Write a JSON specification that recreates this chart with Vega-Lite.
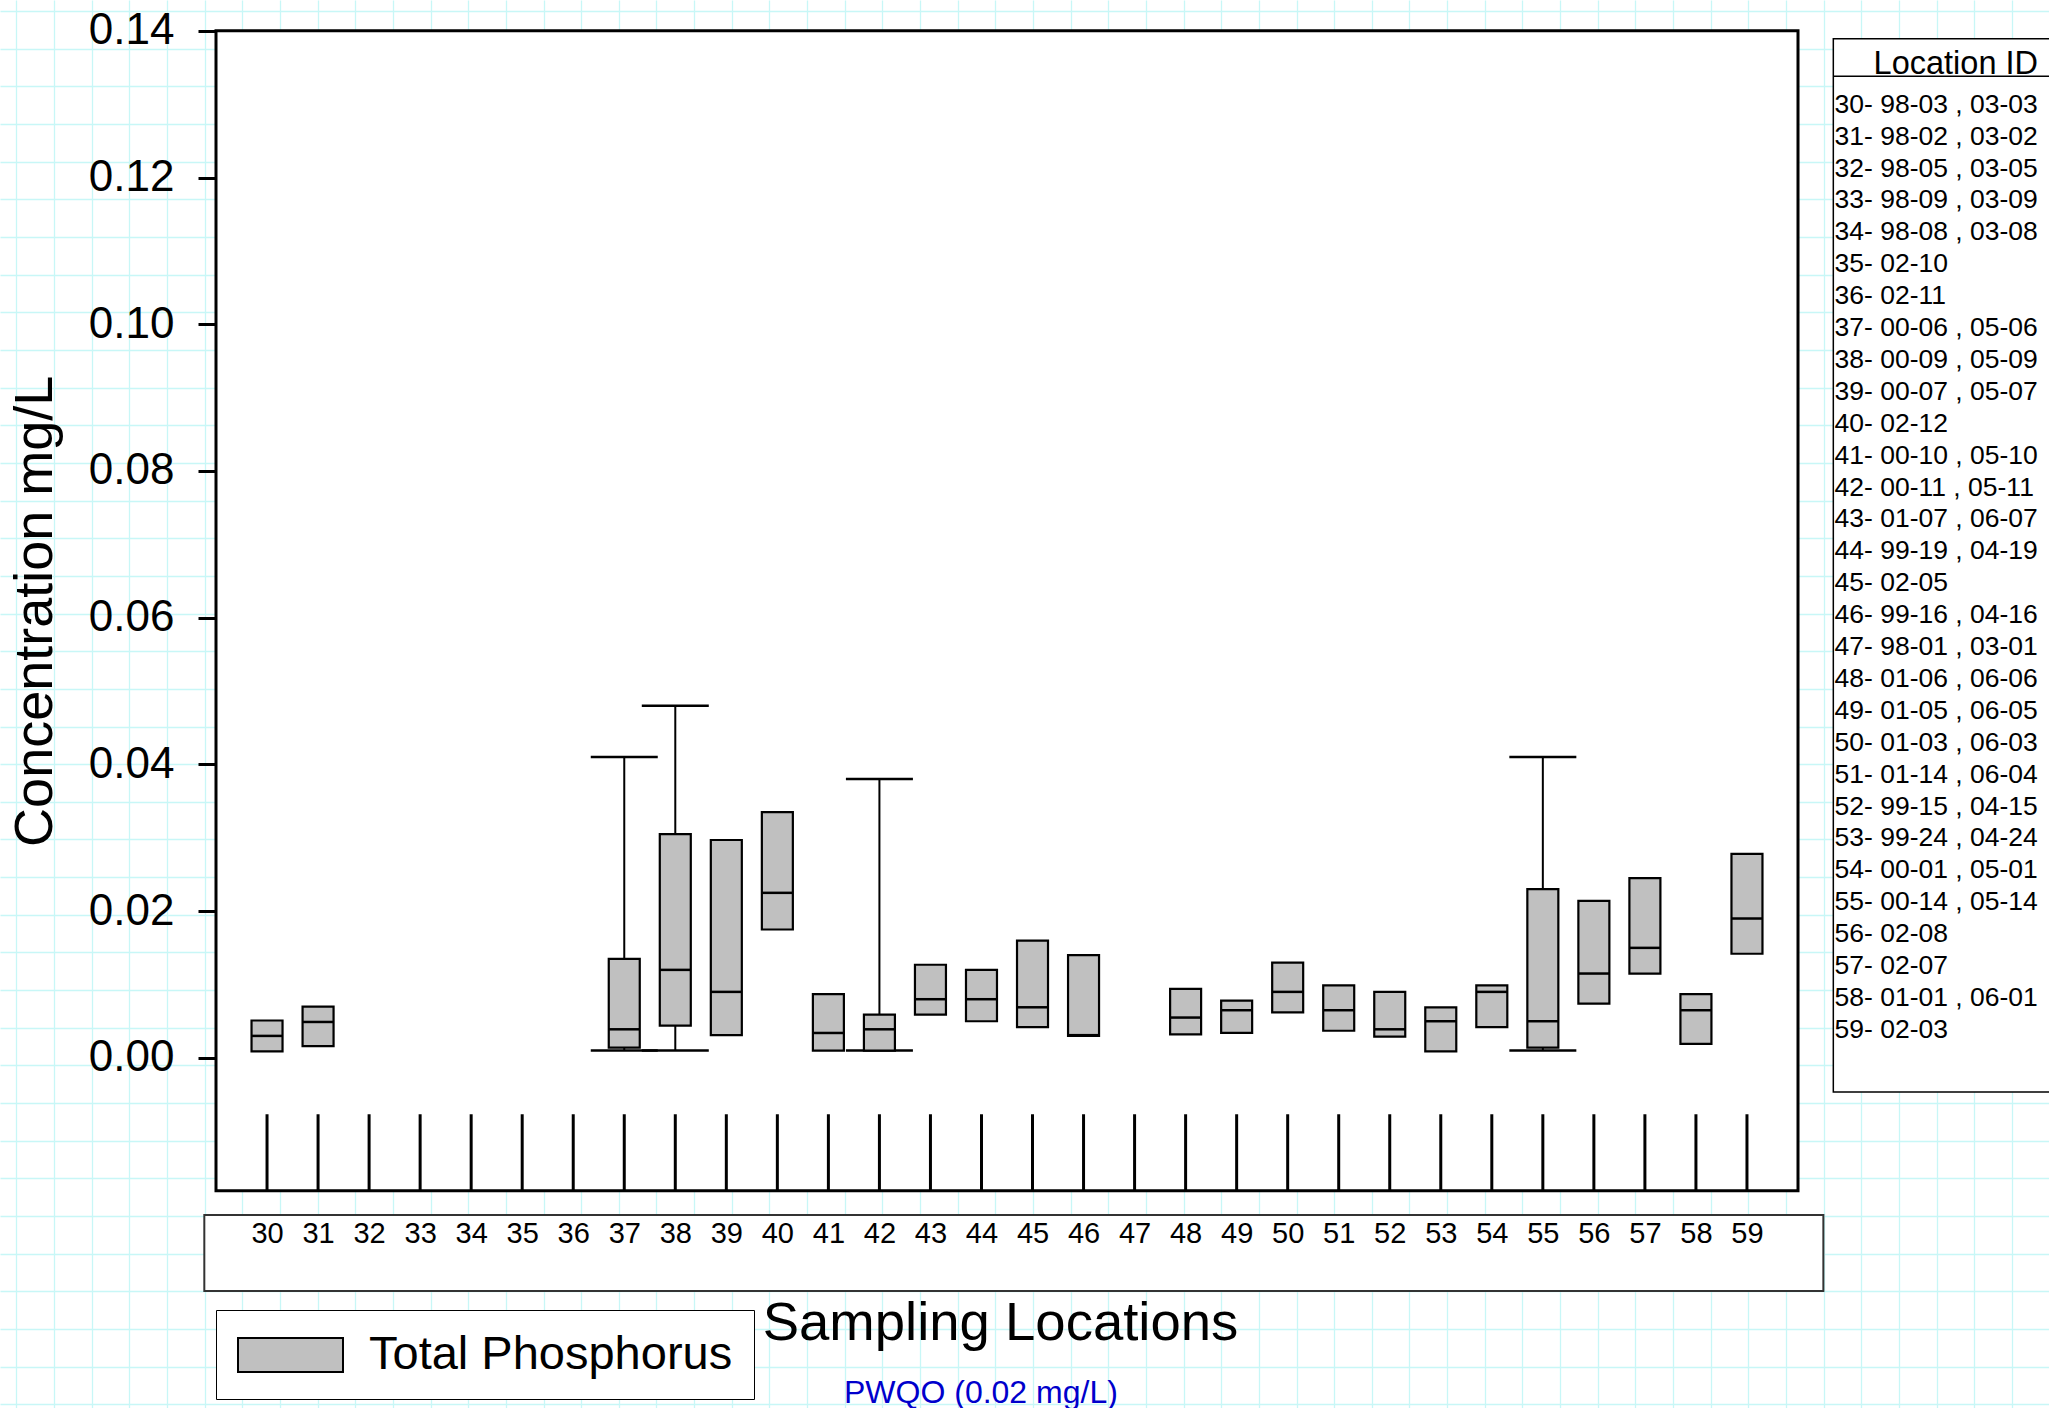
{
  "$schema": "https://vega.github.io/schema/vega-lite/v6.json",
  "width": 2049,
  "height": 1408,
  "autosize": {"type": "none"},
  "padding": 0,
  "background": "white",
  "config": {
    "view": {"stroke": null},
    "font": "Liberation Sans",
    "axis": {"labelFont": "Liberation Sans", "titleFont": "Liberation Sans", "labelColor": "black", "titleColor": "black", "titleFontWeight": "normal"},
    "legend": {"labelFont": "Liberation Sans", "titleFont": "Liberation Sans", "titleFontWeight": "normal", "labelColor": "black", "titleColor": "black"}
  },
  "data": {
    "values": [
      {"loc": 30, "label": "30- 98-03 , 03-03", "min": null, "q1": 0.0009, "median": 0.0030, "q3": 0.0051, "max": null},
      {"loc": 31, "label": "31- 98-02 , 03-02", "min": null, "q1": 0.0016, "median": 0.0049, "q3": 0.0070, "max": null},
      {"loc": 32, "label": "32- 98-05 , 03-05", "min": null, "q1": null, "median": null, "q3": null, "max": null},
      {"loc": 33, "label": "33- 98-09 , 03-09", "min": null, "q1": null, "median": null, "q3": null, "max": null},
      {"loc": 34, "label": "34- 98-08 , 03-08", "min": null, "q1": null, "median": null, "q3": null, "max": null},
      {"loc": 35, "label": "35- 02-10", "min": null, "q1": null, "median": null, "q3": null, "max": null},
      {"loc": 36, "label": "36- 02-11", "min": null, "q1": null, "median": null, "q3": null, "max": null},
      {"loc": 37, "label": "37- 00-06 , 05-06", "min": 0.0010, "q1": 0.0014, "median": 0.0039, "q3": 0.0135, "max": 0.0410},
      {"loc": 38, "label": "38- 00-09 , 05-09", "min": 0.0010, "q1": 0.0044, "median": 0.0120, "q3": 0.0305, "max": 0.0480},
      {"loc": 39, "label": "39- 00-07 , 05-07", "min": null, "q1": 0.0031, "median": 0.0090, "q3": 0.0297, "max": null},
      {"loc": 40, "label": "40- 02-12", "min": null, "q1": 0.0175, "median": 0.0225, "q3": 0.0335, "max": null},
      {"loc": 41, "label": "41- 00-10 , 05-10", "min": null, "q1": 0.0010, "median": 0.0034, "q3": 0.0087, "max": null},
      {"loc": 42, "label": "42- 00-11 , 05-11", "min": 0.0010, "q1": 0.0010, "median": 0.0039, "q3": 0.0059, "max": 0.0380},
      {"loc": 43, "label": "43- 01-07 , 06-07", "min": null, "q1": 0.0059, "median": 0.0080, "q3": 0.0127, "max": null},
      {"loc": 44, "label": "44- 99-19 , 04-19", "min": null, "q1": 0.0050, "median": 0.0080, "q3": 0.0120, "max": null},
      {"loc": 45, "label": "45- 02-05", "min": null, "q1": 0.0042, "median": 0.0069, "q3": 0.0160, "max": null},
      {"loc": 46, "label": "46- 99-16 , 04-16", "min": null, "q1": 0.0030, "median": 0.0031, "q3": 0.0140, "max": null},
      {"loc": 47, "label": "47- 98-01 , 03-01", "min": null, "q1": null, "median": null, "q3": null, "max": null},
      {"loc": 48, "label": "48- 01-06 , 06-06", "min": null, "q1": 0.0032, "median": 0.0055, "q3": 0.0094, "max": null},
      {"loc": 49, "label": "49- 01-05 , 06-05", "min": null, "q1": 0.0034, "median": 0.0065, "q3": 0.0078, "max": null},
      {"loc": 50, "label": "50- 01-03 , 06-03", "min": null, "q1": 0.0062, "median": 0.0090, "q3": 0.0130, "max": null},
      {"loc": 51, "label": "51- 01-14 , 06-04", "min": null, "q1": 0.0037, "median": 0.0065, "q3": 0.0099, "max": null},
      {"loc": 52, "label": "52- 99-15 , 04-15", "min": null, "q1": 0.0029, "median": 0.0039, "q3": 0.0090, "max": null},
      {"loc": 53, "label": "53- 99-24 , 04-24", "min": null, "q1": 0.0009, "median": 0.0050, "q3": 0.0069, "max": null},
      {"loc": 54, "label": "54- 00-01 , 05-01", "min": null, "q1": 0.0042, "median": 0.0090, "q3": 0.0099, "max": null},
      {"loc": 55, "label": "55- 00-14 , 05-14", "min": 0.0010, "q1": 0.0014, "median": 0.0050, "q3": 0.0230, "max": 0.0410},
      {"loc": 56, "label": "56- 02-08", "min": null, "q1": 0.0074, "median": 0.0115, "q3": 0.0214, "max": null},
      {"loc": 57, "label": "57- 02-07", "min": null, "q1": 0.0115, "median": 0.0150, "q3": 0.0245, "max": null},
      {"loc": 58, "label": "58- 01-01 , 06-01", "min": null, "q1": 0.0019, "median": 0.0065, "q3": 0.0087, "max": null},
      {"loc": 59, "label": "59- 02-03", "min": null, "q1": 0.0142, "median": 0.0190, "q3": 0.0278, "max": null}
    ]
  },
  "resolve": {"scale": {"x": "independent", "y": "independent"}, "axis": {"x": "independent", "y": "independent"}},
  "layer": [
    {
      "data": {"values": [{"g": 0}]},
      "mark": {"type": "point", "opacity": 0},
      "encoding": {
        "x": {"datum": 0, "type": "quantitative",
          "scale": {"domain": [-0.4356, 53.986], "nice": false, "zero": false, "padding": 0},
          "axis": {"orient": "top", "grid": true, "gridColor": "#c8f7f7", "gridWidth": 1.3, "gridOpacity": 1, "labels": false, "ticks": false, "domain": false, "tickCount": 54, "title": null}},
        "y": {"datum": 0, "type": "quantitative",
          "scale": {"domain": [-0.1, 37.297], "nice": false, "zero": false, "padding": 0},
          "axis": {"orient": "right", "grid": true, "gridColor": "#c8f7f7", "gridWidth": 1.3, "gridOpacity": 1, "labels": false, "ticks": false, "domain": false, "tickCount": 37, "title": null}}
      }
    },
    {
      "layer": [
        {
          "data": {"values": [{"f": 0}]},
          "mark": {"type": "rect", "fill": "white", "stroke": "black", "strokeWidth": 3},
          "encoding": {
            "x": {"datum": 29, "type": "quantitative",
              "scale": {"domain": [29, 60], "range": [216, 1798], "nice": false, "zero": false, "padding": 0},
              "axis": {"orient": "bottom", "offset": -217.3, "zindex": 2, "values": [30,31,32,33,34,35,36,37,38,39,40,41,42,43,44,45,46,47,48,49,50,51,52,53,54,55,56,57,58,59], "format": "d", "domain": false, "grid": false, "ticks": false, "tickSize": 0, "labelFontSize": 29, "labelPadding": 29, "labelFlush": false, "labelOverlap": false, "labelBound": false, "title": "Sampling Locations", "titleFontSize": 54.5, "titlePadding": 48, "titleX": 1000}},
            "x2": {"datum": 60},
            "y": {"datum": -0.0181, "type": "quantitative",
              "scale": {"domain": [-0.0181, 0.14], "range": [1190.7, 30.8], "nice": false, "zero": false, "padding": 0},
              "axis": {"orient": "left", "offset": -216, "zindex": 2, "values": [0, 0.02, 0.04, 0.06, 0.08, 0.1, 0.12, 0.14], "format": ".2f", "domain": false, "grid": false, "ticks": true, "tickSize": 18, "tickWidth": 3, "tickColor": "black", "labelFontSize": 44, "labelPadding": 24, "labelFlush": false, "labelOverlap": false, "labelBound": false, "title": "Concentration mg/L", "titleFontSize": 54, "titlePadding": 26}},
            "y2": {"datum": 0.14}
          }
        },
        {
          "data": {"values": [{"f": 0}]},
          "mark": {"type": "rect", "fill": "white", "stroke": "#333333", "strokeWidth": 2},
          "encoding": {
            "x": {"datum": 28.771, "type": "quantitative"},
            "x2": {"datum": 60.497},
            "y": {"datum": -0.02141, "type": "quantitative"},
            "y2": {"datum": -0.03177}
          }
        },
        {
          "data": {"values": [{"f": 0}]},
          "mark": {"type": "rect", "fill": "white", "stroke": "black", "strokeWidth": 1.5},
          "encoding": {
            "x": {"datum": 60.692, "type": "quantitative"},
            "x2": {"datum": 66},
            "y": {"datum": 0.13892, "type": "quantitative"},
            "y2": {"datum": -0.004635}
          }
        },
        {
          "data": {"values": [{"f": 0}]},
          "mark": {"type": "rule", "stroke": "black", "strokeWidth": 1.5},
          "encoding": {
            "x": {"datum": 60.692, "type": "quantitative"},
            "x2": {"datum": 66},
            "y": {"datum": 0.13379, "type": "quantitative"}
          }
        },
        {
          "mark": {"type": "rule", "stroke": "black", "strokeWidth": 3},
          "encoding": {
            "x": {"field": "loc", "type": "quantitative"},
            "y": {"datum": -0.00768, "type": "quantitative"},
            "y2": {"datum": -0.0181}
          }
        },
        {
          "mark": {"type": "rule", "stroke": "black", "strokeWidth": 2},
          "encoding": {
            "x": {"field": "loc", "type": "quantitative"},
            "y": {"field": "min", "type": "quantitative"},
            "y2": {"field": "max"}
          }
        },
        {
          "mark": {"type": "tick", "orient": "horizontal", "size": 67, "thickness": 2.5, "color": "black", "opacity": 1},
          "encoding": {
            "x": {"field": "loc", "type": "quantitative"},
            "y": {"field": "min", "type": "quantitative"}
          }
        },
        {
          "mark": {"type": "tick", "orient": "horizontal", "size": 67, "thickness": 2.5, "color": "black", "opacity": 1},
          "encoding": {
            "x": {"field": "loc", "type": "quantitative"},
            "y": {"field": "max", "type": "quantitative"}
          }
        },
        {
          "mark": {"type": "bar", "width": 31, "stroke": "black", "strokeWidth": 2.2, "opacity": 1},
          "encoding": {
            "x": {"field": "loc", "type": "quantitative"},
            "y": {"field": "q1", "type": "quantitative"},
            "y2": {"field": "q3"},
            "fill": {"datum": "Total Phosphorus", "type": "nominal",
              "scale": {"range": ["#c0c0c0"]},
              "legend": {"orient": "none", "legendX": 216, "legendY": 1310, "title": null, "padding": 21, "strokeColor": "black", "fillColor": "white", "symbolType": "M-1,-0.739H3.565V0.739H-1Z", "symbolSize": 2116, "symbolStrokeColor": "black", "symbolStrokeWidth": 2, "symbolFillColor": "#c0c0c0", "labelFontSize": 47, "labelOffset": 84, "labelLimit": 700,
                "encode": {"legend": {"update": {"strokeWidth": {"value": 2}}}}}}
          }
        },
        {
          "mark": {"type": "tick", "orient": "horizontal", "size": 31, "thickness": 2.5, "color": "black", "opacity": 1},
          "encoding": {
            "x": {"field": "loc", "type": "quantitative"},
            "y": {"field": "median", "type": "quantitative"}
          }
        },
        {
          "mark": {"type": "point", "opacity": 0},
          "encoding": {
            "shape": {"field": "label", "type": "nominal",
              "legend": {"orient": "none", "legendX": 1808, "legendY": 48, "title": "Location ID", "titleFontSize": 32.5, "titleAnchor": "end", "titlePadding": 11, "labelFontSize": 26.5, "labelLimit": 400, "symbolSize": 0, "symbolOpacity": 0, "symbolStrokeWidth": 0, "labelOffset": 0, "rowPadding": 4.9, "padding": 0, "symbolLimit": 50}}
          }
        },
        {
          "data": {"values": [{"pwqo": "PWQO (0.02 mg/L)"}]},
          "mark": {"type": "point", "opacity": 0},
          "encoding": {
            "color": {"field": "pwqo", "type": "nominal",
              "scale": {"range": ["#0000cc"]},
              "legend": {"orient": "none", "legendX": 812, "legendY": 1377, "title": null, "padding": 0, "symbolSize": 0, "symbolOpacity": 0, "symbolStrokeWidth": 0, "labelOffset": 0, "labelFontSize": 32, "labelColor": "#0000cc", "labelLimit": 500}}
          }
        }
      ]
    }
  ]
}
